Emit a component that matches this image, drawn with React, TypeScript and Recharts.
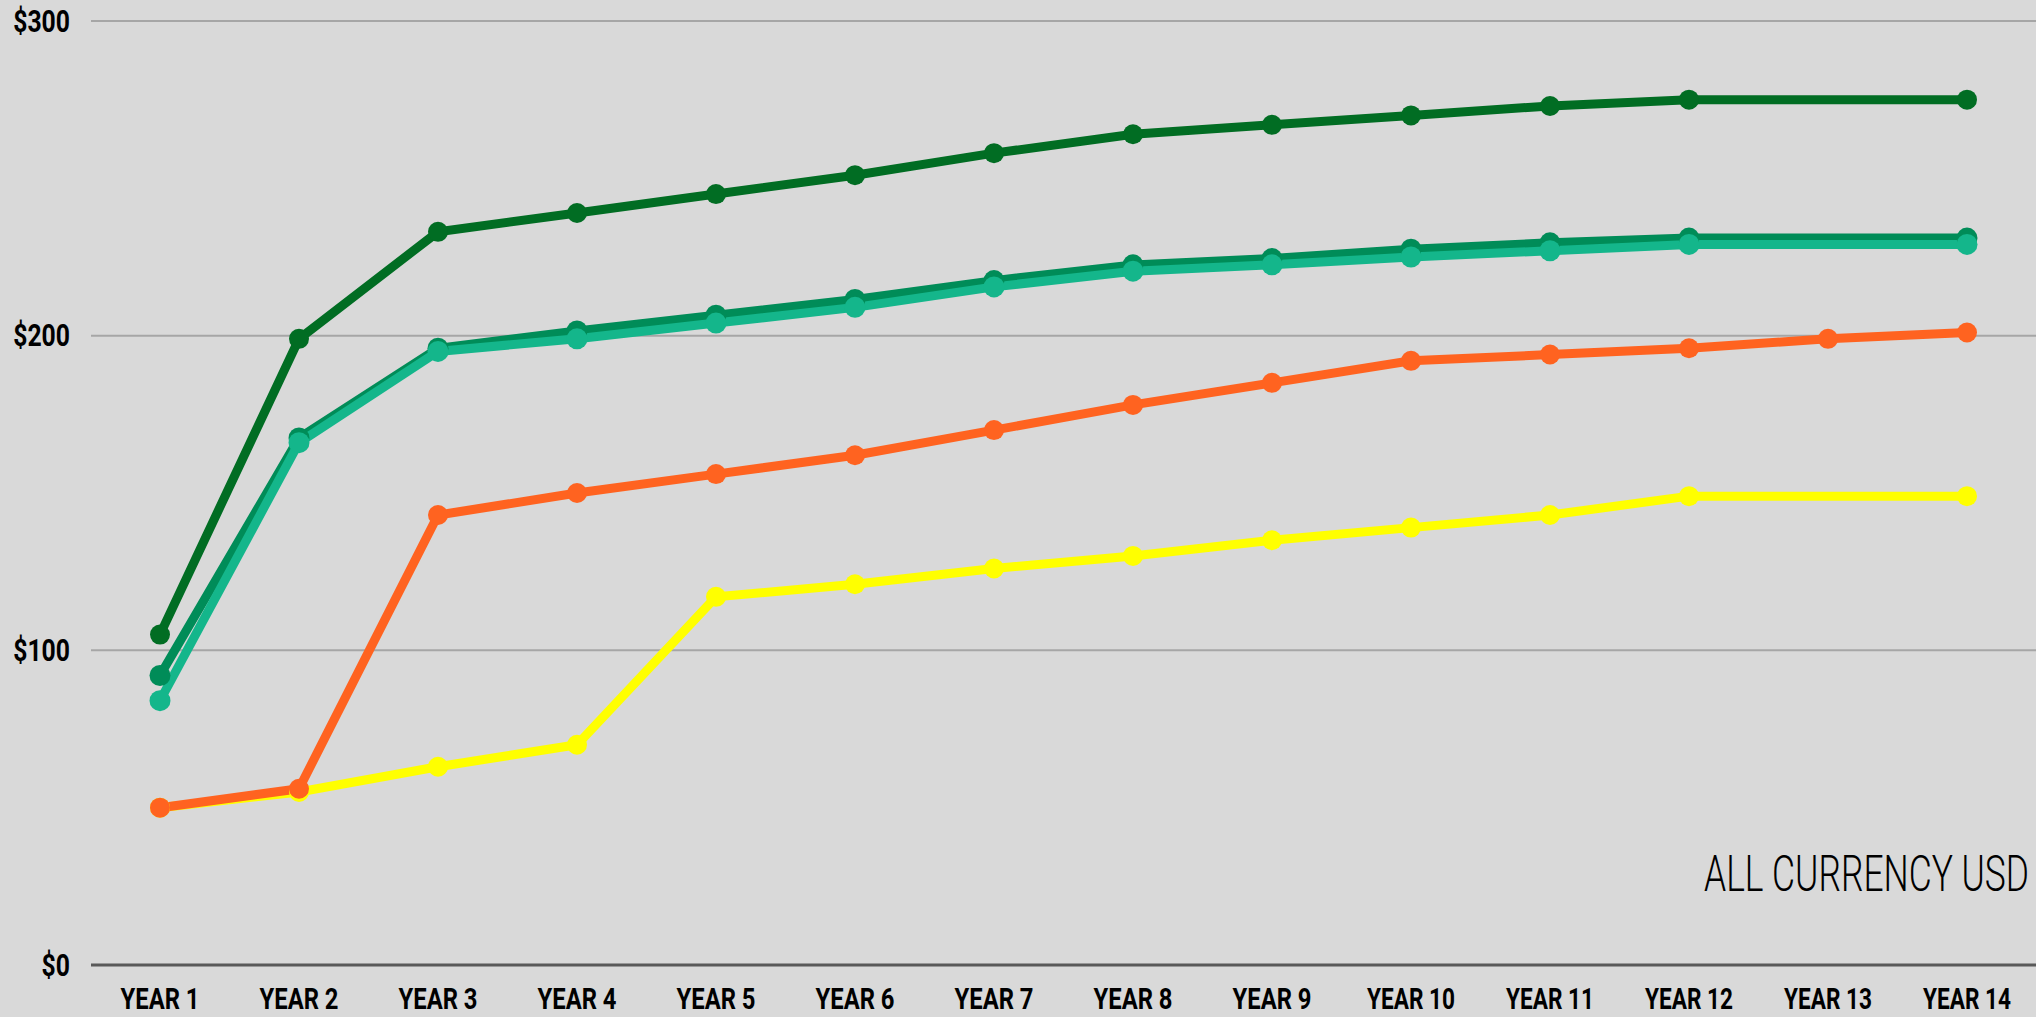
import React from "react";
import { LineChart, Line, XAxis, YAxis, CartesianGrid } from "recharts";

const years = [
  "YEAR 1", "YEAR 2", "YEAR 3", "YEAR 4", "YEAR 5", "YEAR 6", "YEAR 7",
  "YEAR 8", "YEAR 9", "YEAR 10", "YEAR 11", "YEAR 12", "YEAR 13", "YEAR 14",
];
const yTicks = [0, 100, 200, 300];

// values, USD
const forest = [105, 199, 233, 239, 245, 251, 258, 264, 267, 270, 273, 275, null, 275];
const jade = [92, 167.5, 196, 201.5, 206.5, 211.5, 217.5, 222.5, 224.5, 227.5, 229.5, 231, null, 231];
const mint = [84, 166, 195, 199, 204, 209, 215.5, 220.5, 222.5, 225, 227, 229, null, 229];
const lemon = [50, 55, 63, 70, 117, 121, 126, 130, 135, 139, 143, 149, null, 149];
const tangerine = [50, 56, 143, 150, 156, 162, 170, 178, 185, 192, 194, 196, 199, 201];

const data = years.map((year, i) => ({
  year,
  forest: forest[i],
  jade: jade[i],
  mint: mint[i],
  lemon: lemon[i],
  tangerine: tangerine[i],
}));

const FONT = 'Roboto, "DejaVu Sans", sans-serif';

// labels are squeezed to the width of the condensed face in the original
const YTick = ({ x, y, payload }: any) => {
  const label = `$${payload.value}`;
  return (
    <text x={x} y={y} textAnchor="end" dominantBaseline="central"
      textLength={label.length * 14.2} lengthAdjust="spacingAndGlyphs"
      fontFamily={FONT} fontWeight={700} fontSize={31} fill="#000">
      {label}
    </text>
  );
};

const XTick = ({ x, y, payload }: any) => {
  const label: string = payload.value;
  return (
    <text x={x} y={y} textAnchor="middle"
      textLength={label.length > 6 ? 88 : 79} lengthAdjust="spacingAndGlyphs"
      fontFamily={FONT} fontWeight={700} fontSize={30} fill="#000">
      {label}
    </text>
  );
};

const series = [
  { key: "forest", color: "#016d23", r: 10 },
  { key: "jade", color: "#008c58", r: 10.5 },
  { key: "mint", color: "#14b68b", r: 10.5 },
  { key: "lemon", color: "#ffff00", r: 10 },
  { key: "tangerine", color: "#ff6320", r: 10 },
];

export default function App() {
  return (
    <div style={{ position: "relative", width: 2036, height: 1017, background: "#d9d9d9" }}>
      <style>{"body{margin:0;background:#d9d9d9}"}</style>
      <LineChart width={2036} height={1017} data={data}
        margin={{ top: 21, right: 0, bottom: 0, left: 0 }}>
        <CartesianGrid horizontal vertical={false} stroke="#a6a6a6" strokeWidth={2} />
        <XAxis dataKey="year" interval={0} height={52}
          padding={{ left: 69, right: 69 }}
          axisLine={{ stroke: "#595959", strokeWidth: 3 }}
          tickLine={false} tickSize={0} tickMargin={44} tick={<XTick />} />
        <YAxis domain={[0, 300]} ticks={yTicks} width={91}
          axisLine={false} tickLine={false} tickSize={0} tickMargin={21}
          tick={<YTick />} />
        {series.map((s) => (
          <Line key={s.key} type="linear" dataKey={s.key} stroke={s.color}
            strokeWidth={9} connectNulls
            dot={{ r: s.r, fill: s.color, stroke: s.color, strokeWidth: 0 }}
            activeDot={false} isAnimationActive={false} />
        ))}
      </LineChart>
      <svg width={2036} height={1017}
        style={{ position: "absolute", left: 0, top: 0, pointerEvents: "none" }}>
        <text x={2029} y={891} textAnchor="end" textLength={325}
          lengthAdjust="spacingAndGlyphs" fontFamily='Roboto, "Open Sans", sans-serif'
          fontWeight={300} fontSize={50} fill="#000">
          ALL CURRENCY USD
        </text>
      </svg>
    </div>
  );
}
